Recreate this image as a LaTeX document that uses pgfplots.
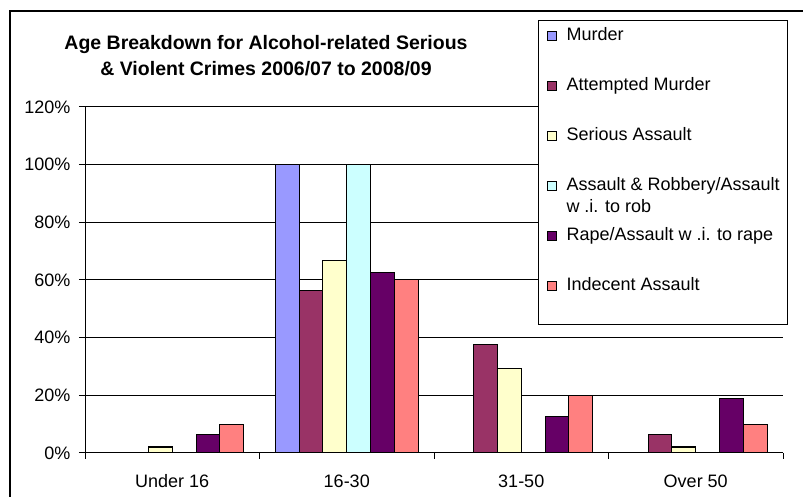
\documentclass[border=0pt]{standalone}
\usepackage{fontspec}
\setmainfont{Liberation Sans}
\usepackage{pgfplots}
\pgfplotsset{compat=1.18}
\definecolor{cMurder}{HTML}{9999FF}
\definecolor{cAM}{HTML}{993366}
\definecolor{cSA}{HTML}{FFFFCC}
\definecolor{cAR}{HTML}{CCFFFF}
\definecolor{cRape}{HTML}{660066}
\definecolor{cInd}{HTML}{FF8080}
\newcommand{\fs}{\fontsize{18}{21.5}\selectfont}
\pgfplotsset{
  myleg/.style={legend image code/.code={\draw[##1,line width=1pt] (0pt,-4.5pt) rectangle (9pt,4.5pt);}},
  mylegl/.style={legend image code/.code={\draw[##1,line width=1pt] (0pt,7pt) rectangle (9pt,16pt);}},
  mybar/.style={fill=#1, draw=black, line width=1pt, myleg},
}
\begin{document}
\begin{tikzpicture}[x=1pt,y=1pt]
\useasboundingbox (0,0) rectangle (803,497);
\draw[line width=1.5pt] (10,-3) -- (10,486) -- (806,486);
\node[anchor=north, align=center, inner sep=0pt, font={\fontsize{19.5}{26}\selectfont\bfseries}] at (266,462)
  {Age Breakdown for Alcohol-related Serious\\ \& Violent Crimes 2006/07 to 2008/09};
\begin{axis}[
  at={(85pt,44pt)}, anchor=south west,
  scale only axis, width=698pt, height=346pt,
  xmin=-0.5, xmax=3.5, ymin=0, ymax=120,
  axis x line*=bottom, axis y line*=left,
  axis line style={-, line width=1pt, black},
  xtick={-0.5,0.5,1.5,2.5,3.5}, xticklabels={,,,,},
  extra x ticks={0,1,2,3},
  extra x tick labels={Under 16,16-30,31-50,Over 50},
  extra x tick style={major tick length=0pt, tick label style={yshift=-18pt}},
  ytick={0,20,...,120},
  yticklabel={\pgfmathprintnumber{\tick}\%},
  yticklabel style={xshift=-5pt},
  tick align=outside, major tick length=6pt,
  tick style={black, line width=1pt},
  ymajorgrids, major grid style={black, line width=1pt},
  ticklabel style={font=\fs},
  /pgf/number format/assume math mode=true,
  ybar=0pt, bar width=23.8pt,
  legend cell align=left,
  legend style={
    at={(axis description cs:0.649,1.2514)}, anchor=north west,
    draw=black, line width=1pt, fill=white,
    inner xsep=8pt, inner ysep=7pt,
    row sep=33pt, column sep=10pt,
    font=\fs,
    nodes={inner sep=0pt, text height=13pt, text depth=4pt},
  },
]
\addplot[mybar=cMurder] coordinates {(1,100)};
\addlegendentry{Murder}
\addplot[mybar=cAM] coordinates {(1,56.25) (2,37.5) (3,6.25)};
\addlegendentry{Attempted Murder}
\addplot[mybar=cSA] coordinates {(0,2.08) (1,66.67) (2,29.17) (3,2.08)};
\addlegendentry{Serious Assault}
\addplot[mybar=cAR] coordinates {(1,100)};
\addlegendentry{\begin{tabular}[t]{@{}l@{}}Assault \& Robbery/Assault\hspace{11pt}\\w .i. to rob\end{tabular}}
\addplot[mybar=cRape] coordinates {(0,6.25) (1,62.5) (2,12.5) (3,18.75)};
\addlegendentry{Rape/Assault w .i. to rape}
\addplot[mybar=cInd, mylegl] coordinates {(0,10) (1,60) (2,20) (3,10)};
\addlegendentry[text depth=27pt]{Indecent Assault}
\end{axis}
\end{tikzpicture}
\end{document}
